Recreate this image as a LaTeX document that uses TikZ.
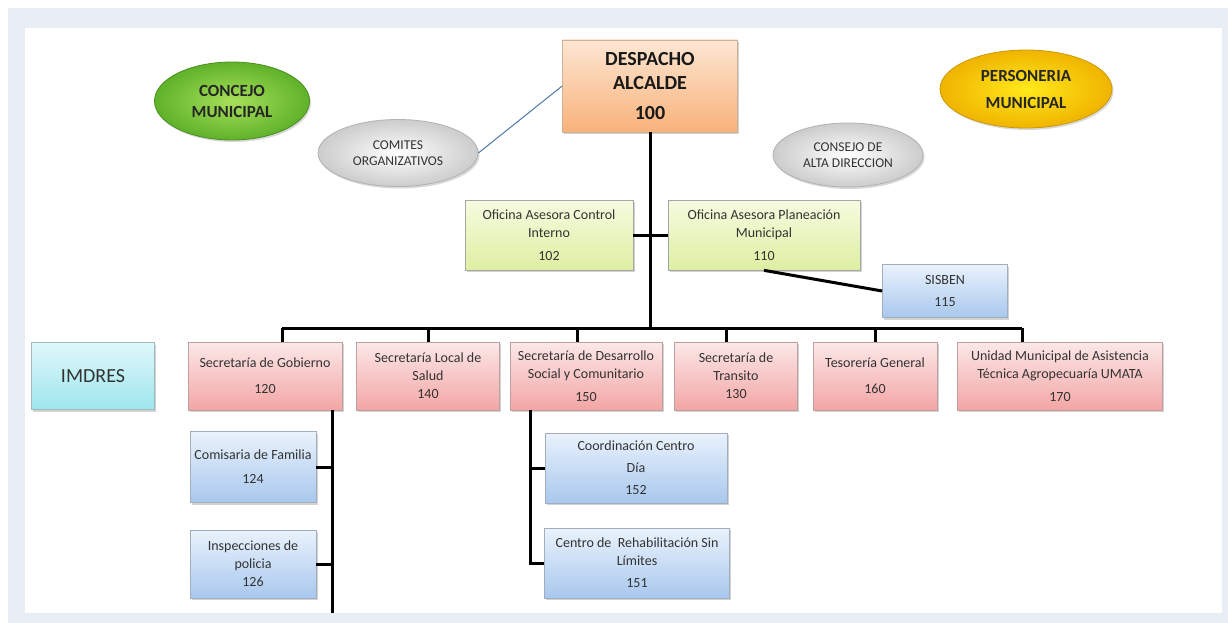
\documentclass[tikz,border=0pt]{standalone}
\usepackage{fontspec}
\setmainfont{Carlito}
\usetikzlibrary{shapes.geometric,shadows}

\definecolor{framegray}{HTML}{E9EDF4}
\definecolor{peachtop}{HTML}{FDE6D2}
\definecolor{peachbot}{HTML}{F8B27A}
\definecolor{limetop}{HTML}{F6FBE0}
\definecolor{limebot}{HTML}{DDEFA2}
\definecolor{redtop}{HTML}{FCE8E8}
\definecolor{redbot}{HTML}{F3A5A5}
\definecolor{bluetop}{HTML}{EAF2FC}
\definecolor{bluebot}{HTML}{A8C8EE}
\definecolor{cyantop}{HTML}{E0F8FA}
\definecolor{cyanbot}{HTML}{9CE6EE}
\definecolor{greenin}{HTML}{A8E05A}
\definecolor{greenout}{HTML}{5FB22A}
\definecolor{yellowin}{HTML}{FFE91A}
\definecolor{yellowout}{HTML}{F0B400}
\definecolor{linkblue}{HTML}{4F7CA8}

\begin{document}
\begin{tikzpicture}[x=1pt,y=-1pt]
	\tikzstyle{box}=[rectangle,draw=black!35,line width=0.7pt,align=center,text=black!80,inner sep=2pt,
		font=\fontsize{14}{18}\selectfont,drop shadow={opacity=0.35,shadow xshift=1.5pt,shadow yshift=-2pt}]
	\tikzstyle{peachbox}=[box,top color=peachtop,bottom color=peachbot,draw=peachbot!70!black!60]
	\tikzstyle{limebox}=[box,top color=limetop,bottom color=limebot]
	\tikzstyle{redbox}=[box,top color=redtop,bottom color=redbot,draw=redbot!60!black!60,minimum height=68pt]
	\tikzstyle{bluebox}=[box,top color=bluetop,bottom color=bluebot,draw=bluebot!60!black!60]
	\tikzstyle{cyanbox}=[box,top color=cyantop,bottom color=cyanbot,draw=cyanbot!60!black!60]
	\tikzstyle{oval}=[ellipse,align=center,inner sep=0pt,line width=0.8pt,
		drop shadow={opacity=0.3,shadow xshift=1.5pt,shadow yshift=-2pt}]
	\tikzstyle{greyoval}=[oval,inner color=white,outer color=black!20,draw=black!30,
		font=\fontsize{13.5}{16.5}\selectfont,text=black!80]
	\tikzstyle{line}=[line width=3pt]

	% frame
	\useasboundingbox (0,0) rectangle (1228,623);
	\fill[framegray] (8,8) rectangle (1228,623);
	\fill[white] (25,28) rectangle (1222,613);

	% top level
	\node[peachbox,minimum width=175pt,minimum height=92pt,font=\fontsize{20}{24}\selectfont\bfseries,text=black!90] (o_100) at (650,86) {DESPACHO\\ALCALDE\\[6pt]100};
	\node[oval,minimum width=155pt,minimum height=78pt,inner color=greenin,outer color=greenout,draw=greenout!80!black,font=\fontsize{17}{21}\selectfont\bfseries,text=black!85] (e_concejo) at (232,101) {CONCEJO\\MUNICIPAL};
	\node[oval,minimum width=172pt,minimum height=78pt,inner color=yellowin,outer color=yellowout,draw=yellowout!85!black,font=\fontsize{17}{27}\selectfont\bfseries,text=black!85] (e_personeria) at (1026,89) {PERSONERIA\\MUNICIPAL};
	\node[greyoval,minimum width=160pt,minimum height=67pt] (e_comites) at (398,153) {COMITES\\ORGANIZATIVOS};
	\node[greyoval,minimum width=150pt,minimum height=64pt] (e_consejo) at (848,155) {CONSEJO DE\\ALTA DIRECCION};

	% asesores
	\node[limebox,minimum width=168pt,minimum height=70pt] (o_102) at (549,235) {Oficina Asesora Control\\Interno\\[5pt]102};
	\node[limebox,minimum width=192pt,minimum height=70pt] (o_110) at (764,235) {Oficina Asesora Planeación\\Municipal\\[5pt]110};
	\node[bluebox,minimum width=125pt,minimum height=53pt] (o_115) at (945,291) {SISBEN\\[4pt]115};

	% secretarias
	\node[cyanbox,minimum width=123pt,minimum height=67pt,font=\fontsize{20}{24}\selectfont] (i_imdres) at (93,376) {IMDRES};
	\node[redbox,minimum width=154pt] (s_120) at (265,376) {Secretaría de Gobierno\\[8pt]120};
	\node[redbox,minimum width=143pt] (s_140) at (428,376) {Secretaría Local de\\Salud\\140};
	\node[redbox,minimum width=152pt] (s_150) at (586,376) {Secretaría de Desarrollo\\Social y Comunitario\\[5pt]150};
	\node[redbox,minimum width=123pt] (s_130) at (736,376) {Secretaría de\\Transito\\130};
	\node[redbox,minimum width=124pt] (s_160) at (875,376) {Tesorería General\\[8pt]160};
	\node[redbox,minimum width=205pt] (s_170) at (1060,376) {Unidad Municipal de Asistencia\\Técnica Agropecuaría UMATA\\[5pt]170};

	% dependencias
	\node[bluebox,minimum width=126pt,minimum height=71pt] (b_124) at (253,467) {Comisaria de Familia\\[6pt]124};
	\node[bluebox,minimum width=126pt,minimum height=68pt] (b_126) at (253,564) {Inspecciones de\\policia\\126};
	\node[bluebox,minimum width=182pt,minimum height=70pt,font=\fontsize{14}{22}\selectfont] (b_152) at (636,468) {Coordinación Centro\\Día\\152};
	\node[bluebox,minimum width=185pt,minimum height=70pt] (b_151) at (637,563) {Centro de~~Rehabilitación Sin\\Límites\\[4pt]151};

	\coordinate (bus_l) at (282,328);
	\coordinate (bus_r) at (1022,328);
	\coordinate (g_top) at (332,410);
	\coordinate (g_end) at (332,613);
	\coordinate (d_top) at (530,410);

	% connectors
	\draw[linkblue,line width=1pt] (e_comites.east) -- (o_100.west);
	\draw[line] (o_100.south) -- (o_100.south |- bus_l);
	\draw[line] (o_102.east) -- (o_110.west);
	\draw[line] (o_110.south) -- (o_115.west);
	\draw[line] (bus_l) -- (bus_r);
	\draw[line] ([xshift=17pt]s_120.north) -- ([xshift=17pt]s_120.north |- bus_l);
	\draw[line] (s_140.north) -- (s_140.north |- bus_l);
	\draw[line] ([xshift=-9pt]s_150.north) -- ([xshift=-9pt]s_150.north |- bus_l);
	\draw[line] ([xshift=-10pt]s_130.north) -- ([xshift=-10pt]s_130.north |- bus_l);
	\draw[line] (s_160.north) -- (s_160.north |- bus_l);
	\draw[line] ([xshift=-38pt]s_170.north) -- ([xshift=-38pt]s_170.north |- bus_l);
	\draw[line] (g_top) -- (g_end);
	\draw[line] (b_124.east) -- (b_124.east -| g_top);
	\draw[line] (b_126.east) -- (b_126.east -| g_top);
	\draw[line] (d_top) |- (b_151.west);
	\draw[line] (b_152.west) -- (b_152.west -| d_top);
\end{tikzpicture}
\end{document}
